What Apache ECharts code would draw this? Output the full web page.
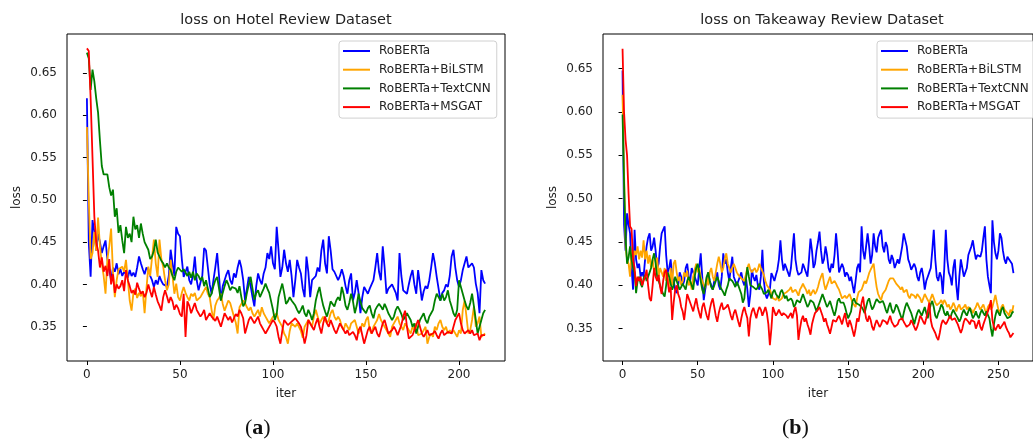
<!DOCTYPE html>
<html>
<head>
<meta charset="utf-8">
<script src="https://cdn.jsdelivr.net/npm/echarts@6/dist/echarts.min.js"></script>
<style>
html, body { margin: 0; padding: 0; background: #fff; }
#chart { width: 1033px; height: 440px; }
</style>
</head>
<body>
<div id="chart"></div>
<script>
// legend names and line colours (matplotlib: blue / orange / green / red)
const seriesNames = ['RoBERTa', 'RoBERTa+BiLSTM', 'RoBERTa+TextCNN', 'RoBERTa+MSGAT']
const lineColors = ['#0000ff', '#ffa500', '#008000', '#ff0000']

// tick labels
const xTicksHotel = [0, 50, 100, 150, 200]
const xTicksTakeaway = [0, 50, 100, 150, 200, 250]
const yTicks = [0.35, 0.40, 0.45, 0.50, 0.55, 0.60, 0.65]

// (a) Hotel Review Dataset, iter 0..214
const hotelRoberta = [
  0.620,0.450,0.409,0.476,0.462,0.440,0.460,0.450,0.437,0.445,
  0.452,0.430,0.418,0.405,0.420,0.415,0.425,0.412,0.418,0.410,
  0.415,0.412,0.408,0.417,0.410,0.414,0.409,0.420,0.433,0.425,
  0.418,0.412,0.420,0.417,0.410,0.405,0.397,0.405,0.400,0.410,
  0.404,0.400,0.402,0.398,0.410,0.441,0.425,0.410,0.468,0.460,
  0.457,0.430,0.409,0.415,0.421,0.405,0.400,0.412,0.433,0.405,
  0.393,0.402,0.410,0.443,0.440,0.420,0.400,0.389,0.405,0.420,
  0.437,0.410,0.381,0.398,0.405,0.412,0.417,0.405,0.400,0.413,
  0.408,0.420,0.429,0.420,0.405,0.381,0.395,0.409,0.398,0.385,
  0.374,0.398,0.413,0.405,0.400,0.413,0.420,0.437,0.430,0.445,
  0.425,0.418,0.468,0.440,0.409,0.420,0.441,0.425,0.415,0.429,
  0.410,0.385,0.405,0.429,0.420,0.413,0.395,0.385,0.433,0.415,
  0.385,0.405,0.405,0.410,0.420,0.415,0.440,0.453,0.425,0.413,
  0.457,0.440,0.418,0.415,0.413,0.405,0.410,0.418,0.410,0.398,
  0.389,0.405,0.413,0.381,0.390,0.405,0.390,0.366,0.385,0.397,
  0.393,0.389,0.395,0.397,0.405,0.420,0.437,0.415,0.405,0.445,
  0.420,0.389,0.395,0.397,0.400,0.398,0.390,0.381,0.437,0.410,
  0.393,0.395,0.389,0.400,0.410,0.417,0.400,0.389,0.417,0.400,
  0.381,0.392,0.398,0.395,0.405,0.420,0.437,0.425,0.409,0.395,
  0.381,0.390,0.393,0.400,0.397,0.410,0.433,0.441,0.420,0.405,
  0.397,0.405,0.417,0.425,0.433,0.420,0.421,0.425,0.420,0.401,
  0.390,0.366,0.417,0.405,0.401
]
const hotelBilstm = [
  0.586,0.500,0.430,0.437,0.462,0.440,0.479,0.445,0.425,0.410,
  0.389,0.430,0.445,0.466,0.415,0.385,0.405,0.418,0.420,0.421,
  0.415,0.429,0.405,0.381,0.369,0.390,0.395,0.384,0.390,0.386,
  0.392,0.366,0.395,0.421,0.410,0.409,0.453,0.425,0.409,0.453,
  0.430,0.421,0.405,0.393,0.400,0.429,0.410,0.389,0.401,0.385,
  0.381,0.390,0.397,0.390,0.385,0.381,0.389,0.386,0.390,0.381,
  0.381,0.385,0.389,0.393,0.397,0.389,0.385,0.370,0.358,0.375,
  0.381,0.384,0.389,0.377,0.369,0.375,0.381,0.378,0.370,0.362,
  0.355,0.342,0.373,0.377,0.381,0.378,0.373,0.369,0.373,0.366,
  0.362,0.366,0.370,0.362,0.373,0.366,0.362,0.358,0.354,0.358,
  0.362,0.360,0.366,0.358,0.354,0.350,0.342,0.338,0.330,0.345,
  0.354,0.352,0.350,0.354,0.352,0.345,0.337,0.350,0.354,0.358,
  0.356,0.350,0.362,0.370,0.362,0.354,0.358,0.362,0.360,0.354,
  0.358,0.366,0.370,0.362,0.358,0.362,0.358,0.350,0.346,0.354,
  0.350,0.346,0.354,0.352,0.358,0.350,0.342,0.346,0.354,0.350,
  0.358,0.362,0.346,0.342,0.350,0.354,0.358,0.365,0.358,0.354,
  0.350,0.346,0.342,0.338,0.350,0.354,0.358,0.362,0.354,0.350,
  0.346,0.354,0.350,0.346,0.342,0.350,0.346,0.354,0.340,0.338,
  0.342,0.346,0.350,0.330,0.338,0.342,0.338,0.350,0.346,0.354,
  0.358,0.350,0.346,0.350,0.342,0.346,0.342,0.346,0.342,0.338,
  0.346,0.342,0.370,0.381,0.362,0.342,0.346,0.358,0.374,0.350,
  0.354,0.362,0.338,0.340,0.342
]
const hotelTextcnn = [
  0.674,0.667,0.630,0.654,0.640,0.620,0.603,0.570,0.540,0.530,
  0.528,0.530,0.515,0.505,0.512,0.480,0.490,0.461,0.470,0.452,
  0.437,0.468,0.455,0.460,0.450,0.480,0.465,0.470,0.455,0.472,
  0.460,0.450,0.448,0.441,0.430,0.433,0.440,0.453,0.438,0.440,
  0.428,0.425,0.420,0.425,0.420,0.417,0.410,0.405,0.415,0.420,
  0.421,0.415,0.418,0.420,0.410,0.415,0.408,0.415,0.405,0.413,
  0.410,0.405,0.409,0.398,0.405,0.395,0.385,0.389,0.398,0.405,
  0.409,0.395,0.381,0.390,0.398,0.405,0.400,0.393,0.397,0.397,
  0.395,0.390,0.398,0.385,0.374,0.378,0.390,0.400,0.409,0.395,
  0.382,0.390,0.393,0.385,0.390,0.395,0.401,0.395,0.390,0.380,
  0.370,0.358,0.365,0.385,0.393,0.401,0.390,0.377,0.380,0.385,
  0.381,0.378,0.375,0.370,0.366,0.370,0.375,0.366,0.362,0.370,
  0.365,0.358,0.366,0.381,0.390,0.397,0.385,0.375,0.368,0.362,
  0.370,0.380,0.378,0.374,0.381,0.385,0.381,0.397,0.388,0.375,
  0.370,0.378,0.389,0.380,0.366,0.375,0.389,0.380,0.372,0.370,
  0.366,0.372,0.375,0.366,0.360,0.370,0.374,0.377,0.374,0.370,
  0.377,0.372,0.366,0.362,0.358,0.362,0.370,0.374,0.370,0.365,
  0.358,0.362,0.366,0.362,0.358,0.350,0.354,0.342,0.350,0.358,
  0.362,0.366,0.358,0.354,0.362,0.366,0.370,0.381,0.389,0.385,
  0.381,0.389,0.381,0.385,0.393,0.381,0.374,0.366,0.362,0.370,
  0.405,0.397,0.389,0.381,0.374,0.370,0.378,0.389,0.374,0.358,
  0.342,0.350,0.358,0.366,0.370
]
const hotelMsgat = [
  0.679,0.676,0.620,0.550,0.480,0.450,0.440,0.420,0.432,0.415,
  0.422,0.410,0.430,0.400,0.412,0.390,0.400,0.395,0.398,0.405,
  0.392,0.417,0.405,0.398,0.390,0.393,0.388,0.402,0.395,0.389,
  0.392,0.385,0.390,0.400,0.392,0.385,0.397,0.388,0.380,0.375,
  0.369,0.385,0.393,0.386,0.378,0.385,0.380,0.370,0.376,0.372,
  0.365,0.362,0.389,0.338,0.380,0.375,0.366,0.372,0.378,0.370,
  0.366,0.362,0.365,0.370,0.358,0.362,0.366,0.362,0.360,0.357,
  0.362,0.356,0.350,0.358,0.366,0.362,0.358,0.362,0.355,0.360,
  0.365,0.362,0.370,0.366,0.360,0.342,0.350,0.358,0.362,0.358,
  0.354,0.358,0.362,0.354,0.350,0.346,0.342,0.344,0.350,0.354,
  0.358,0.355,0.350,0.338,0.330,0.345,0.358,0.355,0.352,0.350,
  0.356,0.358,0.360,0.358,0.354,0.350,0.342,0.330,0.340,0.358,
  0.354,0.350,0.346,0.354,0.360,0.350,0.342,0.354,0.362,0.354,
  0.350,0.358,0.352,0.346,0.342,0.348,0.354,0.350,0.346,0.342,
  0.346,0.340,0.338,0.344,0.340,0.334,0.346,0.350,0.340,0.330,
  0.338,0.346,0.350,0.342,0.346,0.350,0.342,0.338,0.346,0.354,
  0.358,0.350,0.342,0.340,0.346,0.350,0.346,0.340,0.346,0.352,
  0.362,0.369,0.350,0.336,0.334,0.340,0.346,0.352,0.358,0.350,
  0.342,0.338,0.342,0.346,0.340,0.338,0.342,0.345,0.340,0.336,
  0.342,0.346,0.340,0.338,0.344,0.346,0.342,0.350,0.358,0.362,
  0.366,0.354,0.346,0.342,0.340,0.346,0.342,0.346,0.340,0.338,
  0.342,0.334,0.340,0.338,0.340
]

// (b) Takeaway Review Dataset, iter 0..260
const takeawayRoberta = [
  0.648,0.470,0.440,0.483,0.470,0.460,0.420,0.395,0.464,0.430,
  0.420,0.425,0.410,0.415,0.410,0.430,0.445,0.455,0.460,0.440,
  0.445,0.455,0.440,0.420,0.425,0.445,0.460,0.462,0.468,0.435,
  0.415,0.420,0.430,0.410,0.405,0.395,0.391,0.400,0.415,0.410,
  0.400,0.405,0.420,0.425,0.410,0.405,0.420,0.415,0.410,0.405,
  0.400,0.420,0.437,0.410,0.383,0.395,0.405,0.415,0.405,0.400,
  0.395,0.405,0.410,0.415,0.400,0.395,0.410,0.437,0.425,0.430,
  0.415,0.405,0.420,0.433,0.410,0.405,0.400,0.398,0.410,0.415,
  0.405,0.400,0.410,0.395,0.375,0.390,0.418,0.410,0.405,0.412,
  0.400,0.395,0.410,0.441,0.405,0.390,0.385,0.383,0.395,0.414,
  0.410,0.405,0.412,0.418,0.430,0.452,0.430,0.417,0.425,0.425,
  0.415,0.410,0.420,0.440,0.460,0.430,0.418,0.412,0.410,0.415,
  0.425,0.420,0.415,0.410,0.430,0.454,0.440,0.420,0.425,0.440,
  0.450,0.462,0.440,0.425,0.430,0.445,0.435,0.420,0.415,0.425,
  0.420,0.435,0.460,0.440,0.415,0.420,0.425,0.420,0.410,0.415,
  0.412,0.405,0.410,0.400,0.391,0.405,0.420,0.425,0.415,0.468,
  0.440,0.430,0.445,0.460,0.445,0.425,0.435,0.460,0.445,0.438,
  0.455,0.460,0.464,0.445,0.438,0.450,0.445,0.430,0.425,0.435,
  0.430,0.420,0.425,0.430,0.425,0.435,0.445,0.460,0.458,0.445,
  0.430,0.425,0.418,0.420,0.425,0.420,0.410,0.405,0.415,0.420,
  0.410,0.395,0.405,0.410,0.415,0.420,0.440,0.464,0.430,0.410,
  0.405,0.415,0.410,0.390,0.420,0.464,0.430,0.415,0.410,0.400,
  0.420,0.430,0.400,0.383,0.410,0.430,0.420,0.410,0.415,0.420,
  0.435,0.437,0.445,0.452,0.440,0.430,0.435,0.437,0.433,0.440,
  0.455,0.468,0.430,0.410,0.400,0.391,0.475,0.450,0.437,0.430,
  0.440,0.460,0.455,0.440,0.430,0.425,0.433,0.430,0.428,0.425,
  0.414
]
const takeawayBilstm = [
  0.620,0.530,0.445,0.430,0.425,0.410,0.440,0.428,0.440,0.435,
  0.445,0.430,0.440,0.432,0.452,0.430,0.440,0.425,0.435,0.420,
  0.430,0.415,0.420,0.432,0.410,0.420,0.415,0.410,0.420,0.405,
  0.410,0.395,0.420,0.400,0.425,0.429,0.415,0.405,0.410,0.400,
  0.405,0.415,0.410,0.417,0.400,0.405,0.395,0.410,0.418,0.425,
  0.415,0.420,0.410,0.405,0.400,0.397,0.410,0.400,0.415,0.420,
  0.410,0.405,0.415,0.425,0.433,0.425,0.415,0.420,0.430,0.437,
  0.425,0.420,0.415,0.420,0.425,0.420,0.415,0.412,0.410,0.408,
  0.410,0.405,0.412,0.420,0.425,0.418,0.415,0.417,0.420,0.415,
  0.418,0.425,0.420,0.422,0.412,0.405,0.400,0.398,0.395,0.390,
  0.385,0.383,0.383,0.388,0.382,0.380,0.385,0.390,0.388,0.392,
  0.390,0.395,0.398,0.392,0.390,0.395,0.392,0.388,0.395,0.398,
  0.402,0.398,0.395,0.390,0.395,0.388,0.392,0.395,0.390,0.393,
  0.398,0.405,0.410,0.414,0.402,0.395,0.400,0.405,0.410,0.402,
  0.400,0.405,0.402,0.398,0.395,0.390,0.385,0.383,0.388,0.385,
  0.386,0.390,0.385,0.380,0.378,0.375,0.385,0.392,0.390,0.395,
  0.400,0.405,0.402,0.408,0.414,0.418,0.420,0.425,0.410,0.398,
  0.390,0.386,0.383,0.390,0.392,0.395,0.400,0.405,0.408,0.410,
  0.408,0.405,0.402,0.400,0.398,0.395,0.398,0.392,0.390,0.395,
  0.388,0.385,0.390,0.392,0.388,0.385,0.390,0.388,0.385,0.380,
  0.385,0.390,0.388,0.383,0.380,0.385,0.390,0.385,0.380,0.377,
  0.375,0.380,0.383,0.378,0.383,0.380,0.375,0.378,0.372,0.375,
  0.380,0.376,0.370,0.375,0.378,0.372,0.370,0.375,0.378,0.372,
  0.375,0.377,0.372,0.368,0.372,0.375,0.380,0.376,0.372,0.375,
  0.378,0.372,0.368,0.375,0.378,0.372,0.375,0.382,0.389,0.380,
  0.372,0.368,0.375,0.378,0.372,0.370,0.368,0.365,0.372,0.368,
  0.377
]
const takeawayTextcnn = [
  0.597,0.520,0.455,0.425,0.432,0.445,0.430,0.420,0.415,0.391,
  0.405,0.410,0.402,0.398,0.408,0.412,0.405,0.410,0.415,0.420,
  0.430,0.437,0.425,0.410,0.405,0.400,0.395,0.390,0.387,0.400,
  0.415,0.410,0.402,0.395,0.400,0.410,0.405,0.400,0.395,0.398,
  0.402,0.400,0.395,0.405,0.410,0.405,0.400,0.395,0.410,0.420,
  0.425,0.415,0.405,0.395,0.390,0.400,0.410,0.415,0.405,0.398,
  0.395,0.400,0.405,0.410,0.405,0.398,0.395,0.392,0.388,0.395,
  0.400,0.408,0.410,0.405,0.402,0.398,0.404,0.400,0.395,0.390,
  0.380,0.385,0.405,0.421,0.410,0.400,0.402,0.398,0.400,0.395,
  0.398,0.402,0.398,0.395,0.390,0.388,0.392,0.395,0.390,0.385,
  0.392,0.395,0.390,0.388,0.385,0.392,0.395,0.390,0.385,0.388,
  0.382,0.380,0.385,0.382,0.375,0.378,0.383,0.385,0.380,0.385,
  0.390,0.388,0.380,0.375,0.378,0.383,0.385,0.380,0.378,0.370,
  0.375,0.380,0.385,0.390,0.385,0.380,0.375,0.378,0.382,0.380,
  0.370,0.365,0.372,0.382,0.385,0.380,0.378,0.380,0.375,0.368,
  0.362,0.360,0.370,0.382,0.385,0.380,0.382,0.378,0.380,0.375,
  0.372,0.368,0.375,0.382,0.385,0.378,0.372,0.375,0.380,0.384,
  0.385,0.380,0.378,0.382,0.378,0.372,0.368,0.375,0.380,0.372,
  0.368,0.372,0.378,0.375,0.370,0.365,0.360,0.368,0.375,0.380,
  0.378,0.372,0.368,0.362,0.355,0.362,0.368,0.372,0.370,0.365,
  0.370,0.375,0.368,0.362,0.370,0.378,0.382,0.375,0.365,0.362,
  0.368,0.372,0.378,0.375,0.368,0.365,0.370,0.365,0.362,0.368,
  0.372,0.368,0.365,0.362,0.358,0.362,0.368,0.372,0.368,0.365,
  0.370,0.374,0.368,0.362,0.365,0.370,0.365,0.362,0.368,0.372,
  0.368,0.365,0.370,0.372,0.362,0.350,0.341,0.355,0.365,0.372,
  0.370,0.365,0.372,0.375,0.368,0.365,0.362,0.360,0.364,0.368,
  0.370
]
const takeawayMsgat = [
  0.673,0.600,0.568,0.550,0.506,0.468,0.465,0.430,0.420,0.399,
  0.410,0.405,0.410,0.400,0.405,0.410,0.418,0.400,0.385,0.382,
  0.400,0.420,0.410,0.405,0.412,0.398,0.390,0.405,0.415,0.418,
  0.405,0.392,0.398,0.360,0.380,0.395,0.400,0.390,0.385,0.375,
  0.370,0.360,0.375,0.390,0.385,0.380,0.375,0.370,0.378,0.385,
  0.375,0.368,0.362,0.375,0.380,0.372,0.365,0.360,0.372,0.380,
  0.385,0.375,0.365,0.358,0.368,0.375,0.380,0.372,0.370,0.375,
  0.378,0.372,0.365,0.360,0.368,0.372,0.365,0.358,0.352,0.362,
  0.370,0.375,0.368,0.362,0.341,0.362,0.370,0.374,0.368,0.362,
  0.370,0.375,0.372,0.365,0.370,0.375,0.368,0.355,0.331,0.350,
  0.375,0.370,0.365,0.368,0.372,0.368,0.365,0.368,0.370,0.365,
  0.362,0.365,0.368,0.362,0.370,0.375,0.365,0.337,0.350,0.360,
  0.365,0.358,0.362,0.355,0.350,0.343,0.355,0.362,0.368,0.370,
  0.372,0.375,0.375,0.365,0.358,0.362,0.355,0.350,0.344,0.352,
  0.360,0.362,0.358,0.362,0.365,0.360,0.355,0.362,0.368,0.358,
  0.352,0.360,0.355,0.348,0.341,0.350,0.362,0.358,0.370,0.380,
  0.387,0.372,0.362,0.358,0.365,0.360,0.352,0.348,0.355,0.360,
  0.358,0.352,0.355,0.360,0.362,0.358,0.355,0.360,0.365,0.358,
  0.355,0.352,0.350,0.355,0.360,0.358,0.362,0.358,0.355,0.352,
  0.350,0.355,0.360,0.358,0.352,0.348,0.352,0.358,0.365,0.362,
  0.358,0.355,0.362,0.370,0.380,0.360,0.352,0.350,0.345,0.340,
  0.337,0.345,0.355,0.360,0.358,0.355,0.358,0.362,0.365,0.360,
  0.358,0.362,0.360,0.355,0.350,0.345,0.350,0.358,0.362,0.360,
  0.358,0.355,0.360,0.362,0.358,0.350,0.355,0.360,0.352,0.348,
  0.355,0.360,0.365,0.370,0.375,0.383,0.360,0.352,0.348,0.352,
  0.355,0.350,0.352,0.355,0.358,0.352,0.348,0.345,0.340,0.342,
  0.345
]

const hotelData = [hotelRoberta, hotelBilstm, hotelTextcnn, hotelMsgat]
const takeawayData = [takeawayRoberta, takeawayBilstm, takeawayTextcnn, takeawayMsgat]

const FONT = 'DejaVu Sans'
const TEXT = '#222'

// 两个子图的绘图区
const grids = [
  { left: 67, top: 34, width: 438, height: 327 },
  { left: 603, top: 34, width: 438, height: 327 }
]

function makeXAxis(idx, min, max, ticks) {
  return {
    type: 'value', gridIndex: idx, min: min, max: max,
    name: 'iter', nameLocation: 'middle', nameGap: 27,
    nameTextStyle: { fontFamily: FONT, fontSize: 12, color: TEXT },
    axisLine: { show: false },
    axisTick: { show: true, length: 4, lineStyle: { color: '#000' }, customValues: ticks },
    axisLabel: { fontFamily: FONT, fontSize: 12, color: TEXT, margin: 8, customValues: ticks },
    splitLine: { show: false }
  }
}

function makeYAxis(idx, min, max) {
  return {
    type: 'value', gridIndex: idx, min: min, max: max,
    name: 'loss', nameLocation: 'middle', nameGap: 44,
    nameTextStyle: { fontFamily: FONT, fontSize: 12, color: TEXT },
    axisLine: { show: false },
    axisTick: { show: true, length: 4, lineStyle: { color: '#000' }, customValues: yTicks },
    axisLabel: {
      fontFamily: FONT, fontSize: 12, color: TEXT, margin: 10, customValues: yTicks,
      formatter: v => v.toFixed(2)
    },
    splitLine: { show: false }
  }
}

function makeLegend(left) {
  return {
    orient: 'vertical', left: left, top: 41,
    data: seriesNames,
    icon: 'rect', itemWidth: 27, itemHeight: 2, itemGap: 4.7,
    padding: [3, 6, 4, 4],
    backgroundColor: 'rgba(255,255,255,0.8)',
    borderColor: '#d0d0d0', borderWidth: 1, borderRadius: 3,
    textStyle: { fontFamily: FONT, fontSize: 12, color: TEXT, lineHeight: 14, padding: [0, 0, 0, 4] }
  }
}

function makeSeries(idx, list) {
  return list.map((arr, k) => ({
    type: 'line', name: seriesNames[k],
    xAxisIndex: idx, yAxisIndex: idx,
    data: arr.map((v, i) => [i, v]),
    showSymbol: false, symbol: 'none',
    color: lineColors[k],
    lineStyle: { width: 1.8, color: lineColors[k] },
    emphasis: { disabled: true }
  }))
}

// 子图编号 (a) (b)
function panelLabel(letter, x) {
  return {
    type: 'text', left: x, top: 417,
    style: {
      text: '{p|(}{b|' + letter + '}{p|)}',
      rich: {
        p: { fontFamily: 'Liberation Serif', fontSize: 22, fill: '#111' },
        b: { fontFamily: 'Liberation Serif', fontSize: 22, fontWeight: 'bold', fill: '#111' }
      }
    }
  }
}

const chart = echarts.init(document.getElementById('chart'), null, { renderer: 'canvas' })
chart.setOption({
  animation: false,
  backgroundColor: '#fff',
  title: [
    { text: 'loss on Hotel Review Dataset', left: 286, top: 13, textAlign: 'center', padding: 0,
      textStyle: { fontFamily: FONT, fontSize: 14.5, fontWeight: 'normal', color: TEXT } },
    { text: 'loss on Takeaway Review Dataset', left: 822, top: 13, textAlign: 'center', padding: 0,
      textStyle: { fontFamily: FONT, fontSize: 14.5, fontWeight: 'normal', color: TEXT } }
  ],
  grid: grids.map(g => Object.assign({ show: true, borderColor: '#000', borderWidth: 1, backgroundColor: 'transparent' }, g)),
  xAxis: [makeXAxis(0, -10.7, 224.7, xTicksHotel), makeXAxis(1, -13, 273, xTicksTakeaway)],
  yAxis: [makeYAxis(0, 0.3095, 0.696), makeYAxis(1, 0.3127, 0.690)],
  legend: [makeLegend(339), makeLegend(877)],
  series: makeSeries(0, hotelData).concat(makeSeries(1, takeawayData)),
  graphic: [panelLabel('a', 245), panelLabel('b', 782)]
})
</script>
</body>
</html>
